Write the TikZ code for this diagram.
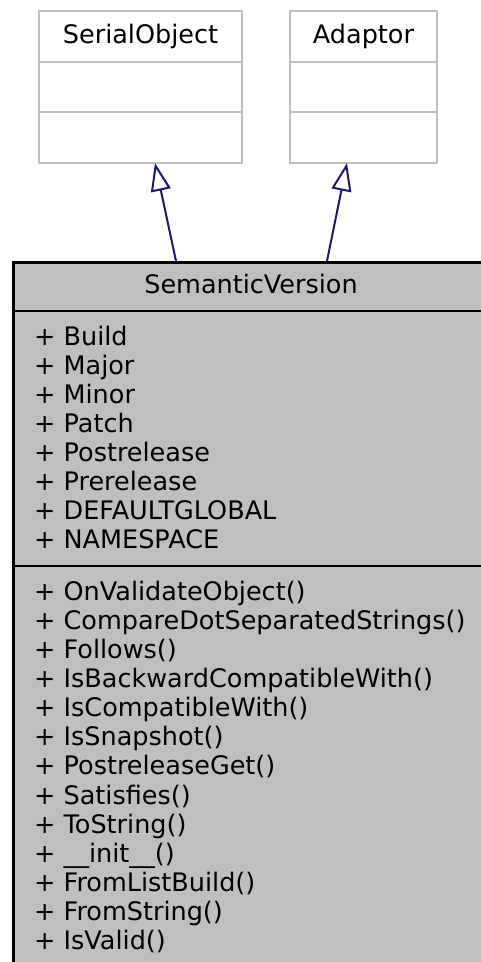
\documentclass[tikz,border=0pt]{standalone}
\usepackage{fontspec}
\setmainfont{DejaVu Sans}
\usetikzlibrary{arrows.meta}
\definecolor{boxgray}{HTML}{BFBFBF}
\definecolor{edgeblue}{HTML}{191970}
\tikzset{
  baseclass/.style={draw=boxgray, line width=2pt, fill=white, rectangle, inner sep=0pt},
  mainclass/.style={draw=black, line width=2.5pt, fill=boxgray, rectangle, inner sep=0pt},
  sepgray/.style={draw=boxgray, line width=2pt},
  sepblack/.style={draw=black, line width=2.5pt},
  title/.style={font=\fontsize{25.5}{29}\selectfont, inner sep=0pt, anchor=base},
  member/.style={font=\fontsize{25.5}{29}\selectfont, inner sep=0pt, anchor=base west},
  inherit/.style={draw=edgeblue, line width=2pt, -{Triangle[open, length=28pt, width=20pt, line width=2pt]}}
}
\begin{document}
\begin{tikzpicture}[x=1pt, y=-1pt]
\useasboundingbox (0,0) rectangle (480,962);
% base classes
\node[baseclass, minimum width=203pt, minimum height=152pt] (so) at (140.5,87) {};
\draw[sepgray] (so.west |- 0,62) -- (so.east |- 0,62);
\draw[sepgray] (so.west |- 0,112) -- (so.east |- 0,112);
\node[title] (sot) at (140.5,43) {SerialObject};
\node[baseclass, minimum width=147pt, minimum height=152pt] (ad) at (363.5,87) {};
\draw[sepgray] (ad.west |- 0,62) -- (ad.east |- 0,62);
\draw[sepgray] (ad.west |- 0,112) -- (ad.east |- 0,112);
\node[title] (adt) at (363.5,43) {Adaptor};
% main class
\node[mainclass, minimum width=480pt, minimum height=720pt, anchor=north west] (sv) at (12,261) {};
\draw[sepblack] (sv.west |- 0,311) -- (sv.east |- 0,311);
\draw[sepblack] (sv.west |- 0,566) -- (sv.east |- 0,566);
\node[title] (svt) at (251,293) {SemanticVersion};
\foreach \t [count=\i] in {Build,Major,Minor,Patch,Postrelease,Prerelease,DEFAULTGLOBAL,NAMESPACE}
  \node[member] (a\i) at (34,{345+29*(\i-1)}) {+ \t};
\foreach \t [count=\i] in {OnValidateObject(),CompareDotSeparatedStrings(),Follows(),IsBackwardCompatibleWith(),IsCompatibleWith(),IsSnapshot(),PostreleaseGet(),Satisfies(),ToString(),\_\_init\_\_(),FromListBuild(),FromString(),IsValid()}
  \node[member] (m\i) at (34,{600+29.15*(\i-1)}) {+ \t};
% inheritance
\coordinate (s1) at (176,261);
\coordinate (t1) at (155,163);
\coordinate (s2) at (327,261);
\coordinate (t2) at (347,163);
\draw[inherit] (s1) -- (t1);
\draw[inherit] (s2) -- (t2);
\end{tikzpicture}
\end{document}
